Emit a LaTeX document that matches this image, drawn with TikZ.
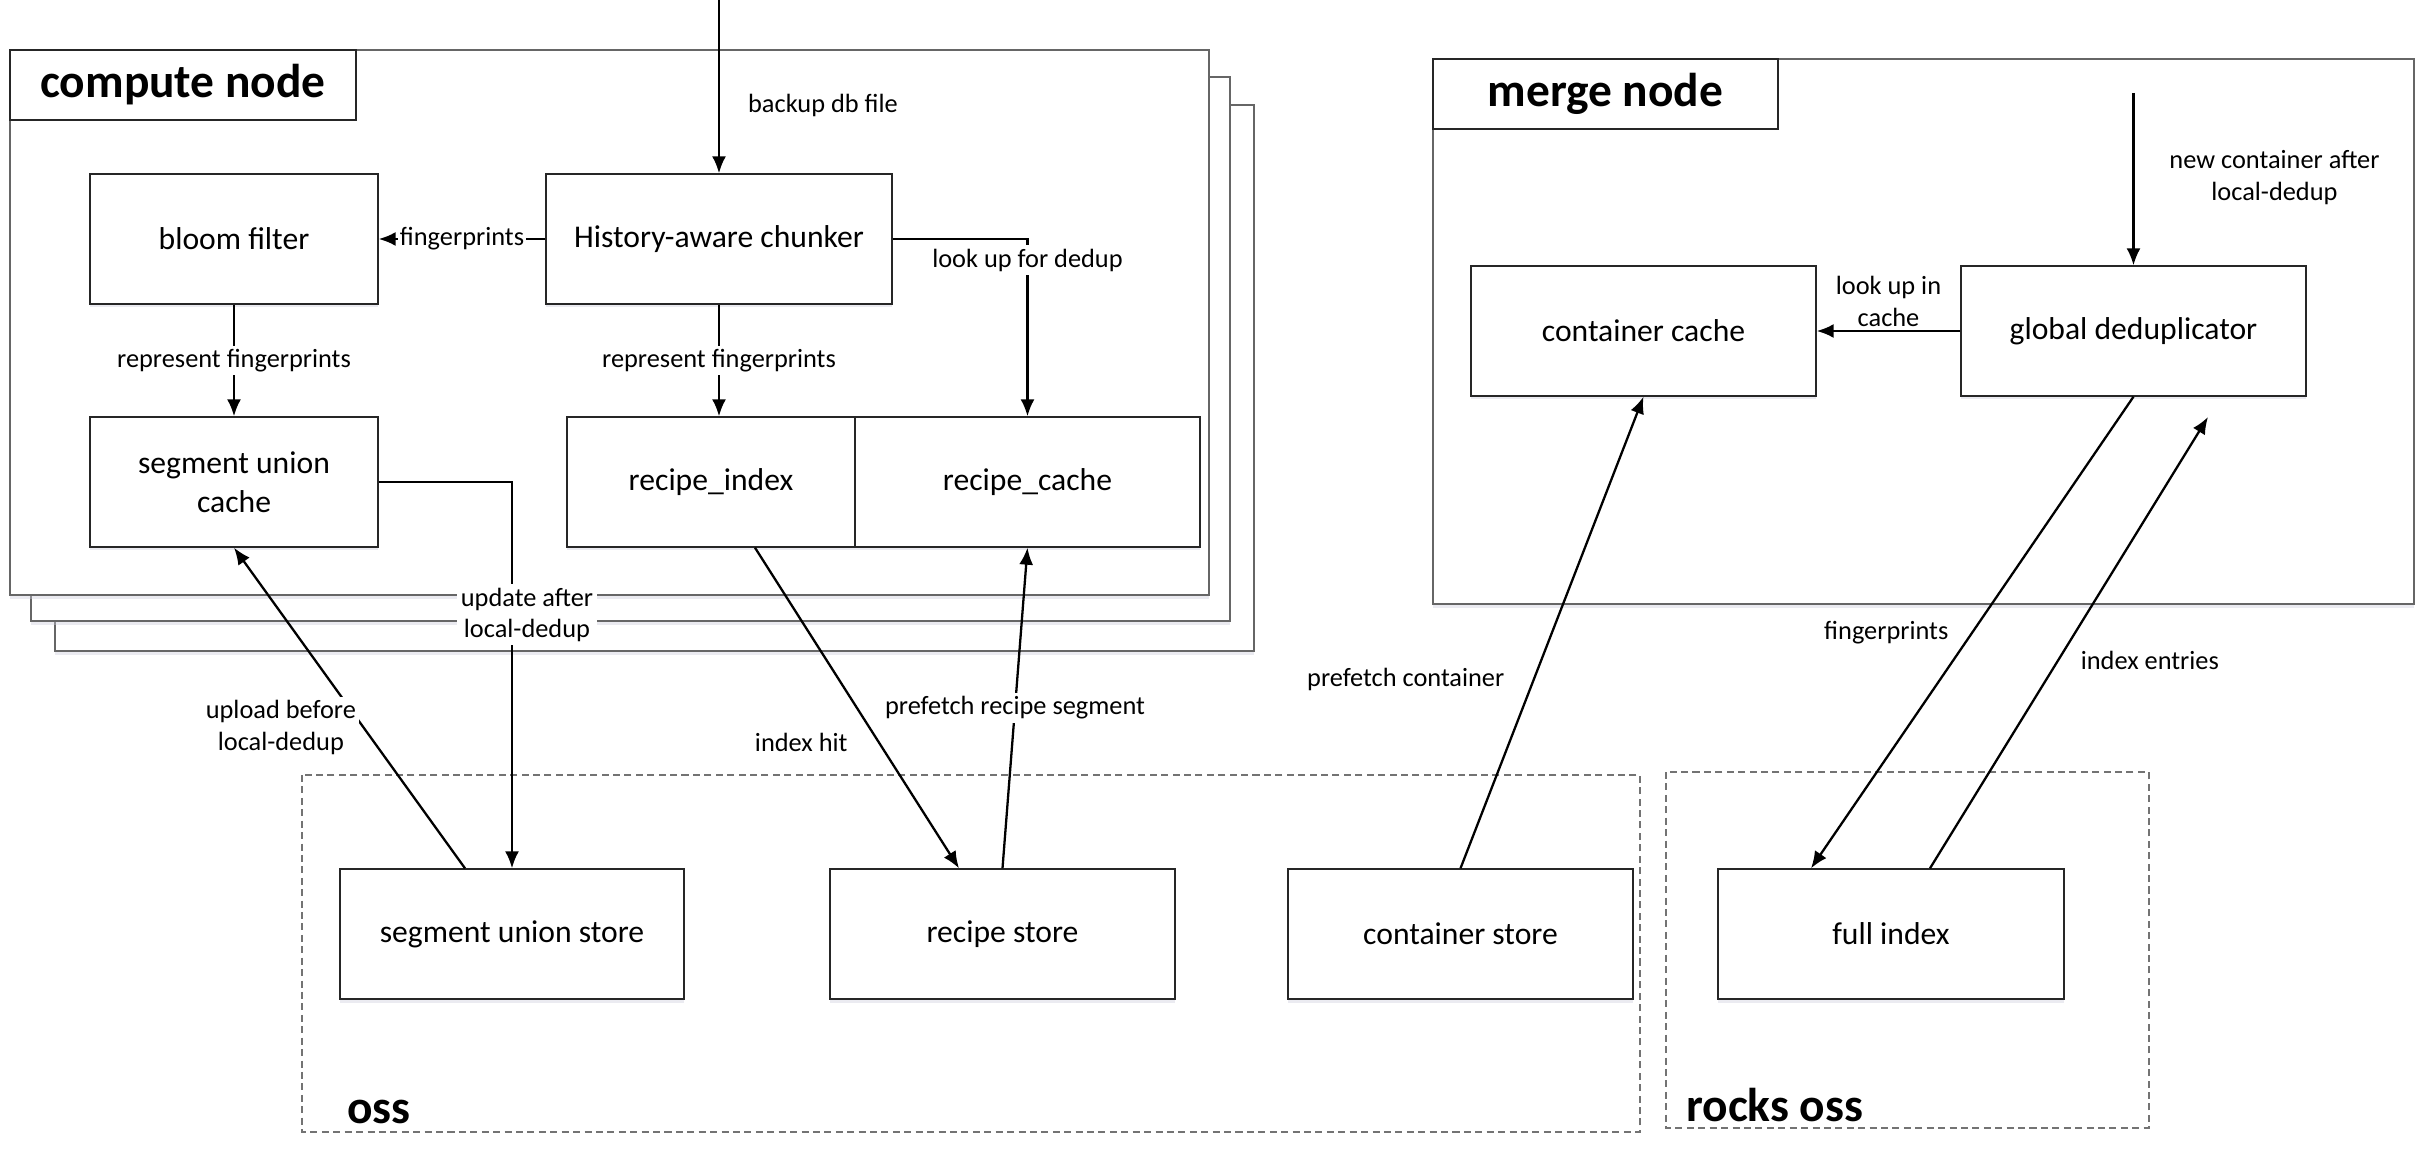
\documentclass[tikz,border=0pt]{standalone}
\usepackage{fontspec}
\setmainfont{Carlito}
\usetikzlibrary{arrows.meta,shadows}

\begin{document}
\begin{tikzpicture}[x=0.02cm,y=-0.02cm,
        >={Latex[length=3.4mm,width=2.8mm]},
        block/.style={draw=black!85,line width=0.8pt,fill=white,minimum height=2.6cm,inner sep=0pt,align=center,
            font=\fontsize{18}{22}\selectfont,
            drop shadow={shadow xshift=0pt,shadow yshift=-2pt,fill=blue!30!black!20,opacity=0.4}},
        nodeframe/.style={draw=black!60,line width=1pt,fill=white,
            drop shadow={shadow xshift=0pt,shadow yshift=-2.5pt,fill=blue!30!black!20,opacity=0.4}},
        ossbox/.style={draw=black!55,line width=0.7pt,dash pattern=on 4pt off 2.5pt},
        titlebox/.style={draw=black!85,line width=0.8pt,fill=white,inner sep=0pt,minimum height=1.4cm,
            font=\fontsize{27}{30}\selectfont\bfseries},
        osslabel/.style={anchor=base west,inner sep=0pt,font=\fontsize{27}{30}\selectfont\bfseries},
        lbl/.style={font=\fontsize{15}{18}\selectfont,align=center,inner sep=2pt},
        flow/.style={->,line width=1.3pt}]

    \useasboundingbox (0,0) rectangle (2425,1175);

    \draw[nodeframe] (55,105) rectangle (1254,651);
    \draw[nodeframe] (31,77) rectangle (1230,621);
    \draw[nodeframe] (10,50) rectangle (1209,595);
    \node[titlebox,minimum width=6.92cm] (cn) at (183,85) {compute node};

    \draw[nodeframe] (1433,59) rectangle (2414,604);
    \node[titlebox,minimum width=6.9cm] (mn) at (1605.5,94) {merge node};

    \draw[ossbox] (302,775) rectangle (1640,1132);
    \node[osslabel] (osslbl) at (347,1123) {oss};
    \draw[ossbox] (1666,772) rectangle (2149,1128);
    \node[osslabel] (rockslbl) at (1686,1121) {rocks oss};

    \node[block,minimum width=5.76cm] (bloom) at (234,239) {bloom filter};
    \node[block,minimum width=6.92cm] (chunker) at (719,239) {History-aware chunker};
    \node[block,minimum width=5.76cm] (segcache) at (234,482) {segment union\\cache};
    \node[block,minimum width=5.76cm] (rindex) at (711,482) {recipe\_index};
    \node[block,minimum width=6.9cm] (rcache) at (1027.5,482) {recipe\_cache};

    \node[block,minimum width=6.88cm] (segstore) at (512,934) {segment union store};
    \node[block,minimum width=6.9cm] (rstore) at (1002.5,934) {recipe store};
    \node[block,minimum width=6.9cm] (cstore) at (1460.5,934) {container store};
    \node[block,minimum width=6.92cm] (fullidx) at (1891,934) {full index};

    \node[block,minimum width=6.9cm] (ccache) at (1643.5,331) {container cache};
    \node[block,minimum width=6.9cm] (dedup) at (2133.5,331) {global deduplicator};

    \coordinate (dbin) at (719,0);
    \coordinate (mergein) at (2133.5,93);
    \coordinate (idxend) at (2208,417);

    \draw[flow] (dbin) -- node[lbl,pos=0.61,right=0.49cm] {backup db file} (chunker.north);
    \draw[flow] (chunker.west) -- node[lbl,fill=white,inner sep=1pt] {fingerprints} (bloom.east);
    \draw[flow] (chunker.east) -| node[lbl,fill=white,pos=0.56] {look up for dedup} (rcache.north);
    \draw[flow] (chunker.south) -- node[lbl,fill=white] {represent fingerprints} (chunker.south |- rindex.north);
    \draw[flow] (bloom.south) -- node[lbl,fill=white] {represent fingerprints} (segcache.north);
    \draw[flow] (segcache.east) -| node[lbl,fill=white,pos=0.672,xshift=0.3cm] {update after\\local-dedup} (segstore.north);
    \draw[flow] ([xshift=-0.94cm]segstore.north) -- node[lbl,fill=white,pos=0.44,xshift=-1.65cm] {upload before\\local-dedup} (segcache.south);
    \draw[flow] ([xshift=0.88cm]rindex.south) -- node[lbl,pos=0.609,xshift=-1.56cm] {index hit} ([xshift=-0.87cm]rstore.north);
    \draw[flow] (rstore.north) -- node[lbl,fill=white] {prefetch recipe segment} (rcache.south);
    \draw[flow] (cstore.north) -- node[lbl,pos=0.4,xshift=-2.56cm] {prefetch container} (ccache.south);

    \draw[flow] (mergein) -- node[lbl,pos=0.49,xshift=2.82cm] {new container after\\local-dedup} (dedup.north);
    \draw[flow] (dedup.west) -- node[lbl,above] {look up in\\cache} (ccache.east);
    \draw[flow] (dedup.south) -- node[lbl,pos=0.5,xshift=-1.72cm] {fingerprints} ([xshift=-1.6cm]fullidx.north);
    \draw[flow] ([xshift=0.78cm]fullidx.north) -- node[lbl,pos=0.46,xshift=1.84cm] {index entries} (idxend);
\end{tikzpicture}
\end{document}
